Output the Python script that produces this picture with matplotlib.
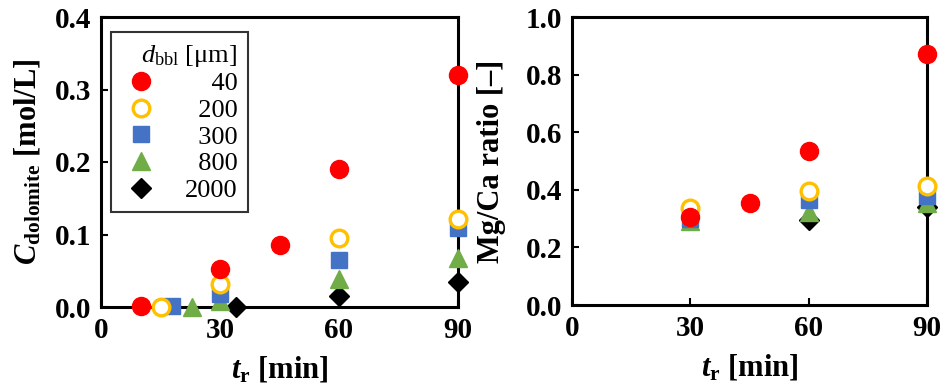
import matplotlib
matplotlib.use("Agg")
import matplotlib.pyplot as plt
from matplotlib.lines import Line2D

plt.rcParams['font.family'] = ['Liberation Serif', 'DejaVu Serif']
plt.rcParams['mathtext.fontset'] = 'custom'
plt.rcParams['mathtext.rm'] = 'Liberation Serif'
plt.rcParams['mathtext.it'] = 'Liberation Serif:italic'
plt.rcParams['mathtext.bf'] = 'Liberation Serif:bold'
plt.rcParams['mathtext.bfit'] = 'Liberation Serif:bold:italic'

# bubble diameters [um]
sizes = ['40', '200', '300', '800', '2000']

# dolomite concentration vs time
t_c = {
    '40':   [10, 30, 45, 60, 90],
    '200':  [15, 30, 60, 90],
    '300':  [18, 30, 60, 90],
    '800':  [23, 30, 60, 90],
    '2000': [34, 60, 90],
}
c_dol = {
    '40':   [0.002, 0.052, 0.085, 0.19, 0.32],
    '200':  [0.0, 0.032, 0.095, 0.122],
    '300':  [0.001, 0.018, 0.065, 0.109],
    '800':  [0.0, 0.008, 0.038, 0.068],
    '2000': [0.0, 0.015, 0.034],
}

# Mg/Ca ratio vs time
t_r = {
    '40':   [30, 45, 60, 90],
    '200':  [30, 60, 90],
    '300':  [30, 60, 90],
    '800':  [30, 60, 90],
    '2000': [60, 90],
}
mgca = {
    '40':   [0.306, 0.354, 0.535, 0.872],
    '200':  [0.337, 0.397, 0.413],
    '300':  [0.298, 0.365, 0.38],
    '800':  [0.29, 0.323, 0.354],
    '2000': [0.295, 0.34],
}

style = {
    '40':   dict(marker='o', color='#ff0000', mfc='#ff0000', mec='#ff0000', ms=13, mew=1),
    '200':  dict(marker='o', color='#ffc000', mfc='white', mec='#ffc000', ms=12, mew=2.4),
    '300':  dict(marker='s', color='#4472c4', mfc='#4472c4', mec='#4472c4', ms=12, mew=1),
    '800':  dict(marker='^', color='#70ad47', mfc='#70ad47', mec='#70ad47', ms=13, mew=1),
    '2000': dict(marker='D', color='black', mfc='black', mec='black', ms=10, mew=1),
}
draw_order = ['2000', '800', '300', '200', '40']

fig = plt.figure(figsize=(9.49, 3.87), dpi=100)
ax1 = fig.add_axes([101/949, 80/387, 357/949, 290/387])
ax2 = fig.add_axes([572/949, 82/387, 355/949, 288/387])

for s in draw_order:
    ax1.plot(t_c[s], c_dol[s], ls='none', clip_on=False, zorder=3, **style[s])
    ax2.plot(t_r[s], mgca[s], ls='none', clip_on=False, zorder=3, **style[s])

for ax in (ax1, ax2):
    ax.set_xlim(0, 90)
    ax.set_xticks([0, 30, 60, 90])
    for sp in ax.spines.values():
        sp.set_linewidth(2.2)
    ax.tick_params(direction='in', length=5, width=1.5, labelsize=21, pad=7)
    for lab in ax.get_xticklabels() + ax.get_yticklabels():
        lab.set_fontweight('bold')
    ax.set_xlabel(r'$\mathbfit{t}_{\mathbf{r}}$ [min]', fontsize=22,
                  fontweight='bold', labelpad=8)

ax1.set_ylim(0, 0.4)
ax1.set_yticks([0.0, 0.1, 0.2, 0.3, 0.4])
ax1.set_yticklabels(['0.0', '0.1', '0.2', '0.3', '0.4'], fontweight='bold')
ax1.set_ylabel(r'$\mathbfit{C}_{\mathbf{dolomite}}$ [mol/L]', fontsize=22,
               fontweight='bold', labelpad=9)

ax2.set_ylim(0, 1.0)
ax2.set_yticks([0.0, 0.2, 0.4, 0.6, 0.8, 1.0])
ax2.set_yticklabels(['0.0', '0.2', '0.4', '0.6', '0.8', '1.0'], fontweight='bold')
ax2.set_ylabel('Mg/Ca ratio [\u2013]', fontsize=22, fontweight='bold', labelpad=14)

handles = [Line2D([], [], ls='none', **style[s]) for s in sizes]
labels = ['\u2007\u2007' + s if len(s) == 2 else
          ('\u2007' + s if len(s) == 3 else s) for s in sizes]
leg = ax1.legend(handles, labels, title=r'$\mathit{d}_{\mathrm{bbl}}$ [μm]',
                 loc='upper left', bbox_to_anchor=(0.028, 0.948),
                 borderaxespad=0,
                 fontsize=19, title_fontsize=19, frameon=True, fancybox=False,
                 edgecolor='black', handletextpad=0.9, labelspacing=0.12,
                 borderpad=0.4, handlelength=1.5, alignment='right')
leg.get_frame().set_linewidth(1.5)

fig.savefig('out.png', dpi=100)
